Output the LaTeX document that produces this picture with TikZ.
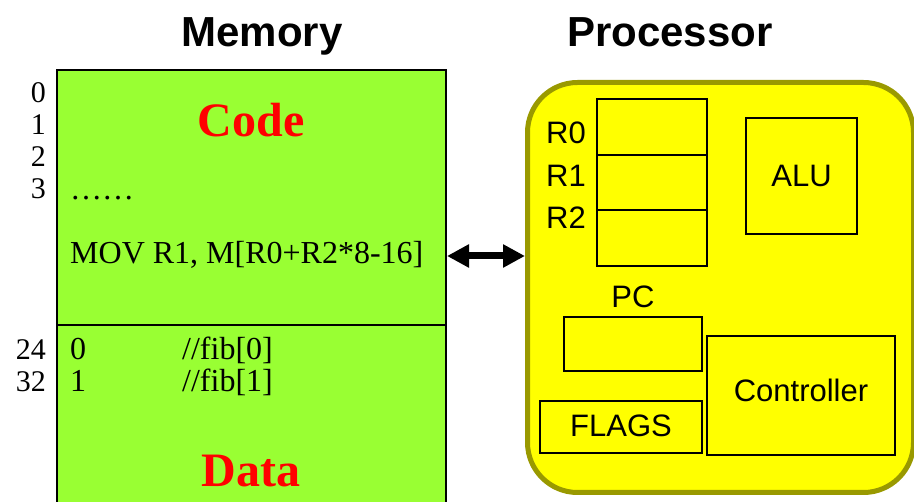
\documentclass[tikz,border=0pt]{standalone}
\usepackage{fontspec}
\setmainfont{Liberation Serif}
\setsansfont{Liberation Sans}
\usepackage{xcolor}
\usepackage{tikz}
\usetikzlibrary{positioning,arrows.meta}
\definecolor{memgreen}{RGB}{153,255,51}
\definecolor{cpuyellow}{RGB}{255,255,0}
\definecolor{cpuedge}{RGB}{153,153,0}
\definecolor{segred}{RGB}{255,0,0}

\begin{document}
\begin{tikzpicture}[x=1pt,y=-1pt]
\tikzstyle{title}=[font=\sffamily\bfseries\fontsize{42}{46}\selectfont, inner sep=0pt]
\tikzstyle{addr}=[font=\fontsize{30}{34}\selectfont, anchor=base east, inner sep=0pt]
\tikzstyle{memtext}=[font=\fontsize{32}{36}\selectfont, anchor=base west, inner sep=0pt]
\tikzstyle{segment}=[font=\bfseries\fontsize{48}{52}\selectfont, text=segred, anchor=base, inner sep=0pt]
\tikzstyle{part}=[rectangle, draw=black, line width=1.5pt, fill=cpuyellow, inner sep=0pt, outer sep=0pt, font=\sffamily\fontsize{31}{35}\selectfont]
\tikzstyle{reg}=[part, line width=1.8pt, minimum width=110pt, minimum height=55.7pt]
\tikzstyle{reglabel}=[font=\sffamily\fontsize{31}{35}\selectfont, anchor=base west, inner sep=0pt]
\tikzstyle{bus}=[{Triangle[length=22pt,width=22pt]}-{Triangle[length=22pt,width=22pt]}, line width=7pt]
\useasboundingbox (0,0) rectangle (914,502);

  % memory
  \node[title, anchor=base] (memtitle) at (262,47) {Memory};
  \node[rectangle, draw=black, line width=2pt, fill=memgreen, anchor=north west,
        minimum width=389pt, minimum height=470pt, inner sep=0pt] (mem) at (56,69) {};
  \draw[line width=1.5pt] (mem.west |- 0,325) -- (mem.east |- 0,325);
  \node[segment] (code) at (251,137) {Code};
  \node[segment] (data) at (251,487) {Data};
  \node[addr] (a0) at (46,103) {0};
  \node[addr] (a1) at (46,135) {1};
  \node[addr] (a2) at (46,167) {2};
  \node[addr] (a3) at (46,199) {3};
  \node[addr] (a24) at (46,360) {24};
  \node[addr] (a32) at (46,392) {32};
  \node[memtext] (dots) at (70,200) {……};
  \node[memtext] (mov) at (70,264) {MOV R1, M[R0+R2*8-16]};
  \node[memtext] (v0) at (70,360) {0};
  \node[memtext] (c0) at (182,360) {//fib[0]};
  \node[memtext] (v1) at (70,392) {1};
  \node[memtext] (c1) at (182,392) {//fib[1]};

  % processor
  \node[title, anchor=base] (cputitle) at (670,47) {Processor};
  \node[rectangle, rounded corners=50pt, draw=cpuedge, line width=5pt, fill=cpuyellow,
        anchor=north west, minimum width=386pt, minimum height=410pt, inner sep=0pt] (cpu) at (525,80) {};
  \node[reg, anchor=north west] (r0) at (597,99) {};
  \node[reg, below=0pt of r0] (r1) {};
  \node[reg, below=0pt of r1] (r2) {};
  \node[reglabel] (l0) at (546,144) {R0};
  \node[reglabel] (l1) at (546,187) {R1};
  \node[reglabel] (l2) at (546,229) {R2};
  \node[part, anchor=north west, minimum width=111pt, minimum height=116pt] (alu) at (746,118) {ALU};
  \node[part, anchor=north west, minimum width=138pt, minimum height=54pt] (pc) at (564,317) {};
  \node[reglabel, anchor=base, above=9pt of pc] (pclabel) {PC};
  \node[part, anchor=north west, minimum width=162pt, minimum height=52pt] (flags) at (540,401) {\raisebox{2pt}{FLAGS}};
  \node[part, anchor=north west, minimum width=188pt, minimum height=119pt] (ctrl) at (707,336) {\raisebox{10pt}{Controller}};

  \coordinate (busy) at (485,256);
  \draw[bus] (mem.east |- busy) -- (cpu.west |- busy);
\end{tikzpicture}
\end{document}
